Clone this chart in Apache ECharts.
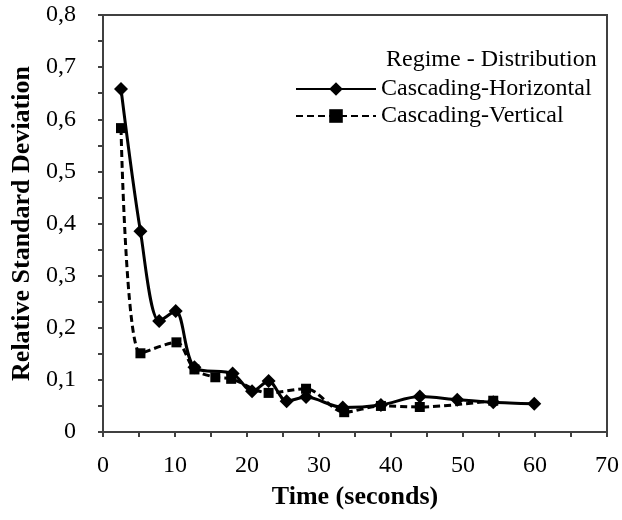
<!DOCTYPE html>
<html><head><meta charset="utf-8">
<script src="https://cdn.jsdelivr.net/npm/echarts@6/dist/echarts.min.js"></script>
<style>html,body{margin:0;padding:0;background:#fff}#c{width:622px;height:520px}</style>
</head><body><div id="c"></div>
<script>
var horizTime = [2.5, 5.2, 7.8, 10.1, 12.7, 18.0, 20.7, 23.0, 25.5, 28.2, 33.3, 38.6, 44.0, 49.2, 54.2, 59.9];
var horizRSD  = [0.658, 0.385, 0.213, 0.232, 0.124, 0.112, 0.078, 0.098, 0.059, 0.067, 0.047, 0.052, 0.068, 0.062, 0.057, 0.054];
var vertTime  = [2.5, 5.2, 10.2, 12.7, 15.6, 17.8, 23.0, 28.2, 33.5, 38.6, 44.0, 54.2];
var vertRSD   = [0.583, 0.151, 0.172, 0.120, 0.105, 0.102, 0.075, 0.083, 0.038, 0.050, 0.048, 0.060];
var seriesNames = ['Cascading-Horizontal', 'Cascading-Vertical'];
var legendTitle = 'Regime - Distribution';
var xTitle = 'Time (seconds)';
var yTitle = 'Relative Standard Deviation';

function pairs(xs, ys){ return xs.map(function(x,i){ return [x, ys[i]]; }); }
var font = 'Liberation Serif';
var axisCol = '#404040';
var chart = echarts.init(document.getElementById('c'));
chart.setOption({
  animation: false,
  backgroundColor: '#fff',
  textStyle: { fontFamily: font },
  grid: { left: 103, right: 15, top: 15, bottom: 88, show: true, borderColor: axisCol, borderWidth: 2, containLabel: false },
  title: { text: legendTitle, left: 381, top: 43, textStyle: { fontFamily: font, fontSize: 24, fontWeight: 'normal', color: '#000' } },
  legend: {
    orient: 'vertical', left: 290, top: 72, itemGap: 3, itemWidth: 80, itemHeight: 17,
    textStyle: { fontFamily: font, fontSize: 24, color: '#000' },
    data: seriesNames
  },
  xAxis: {
    type: 'value', min: 0, max: 70, interval: 10,
    name: xTitle, nameLocation: 'middle', nameGap: 52,
    nameTextStyle: { fontFamily: font, fontSize: 26, fontWeight: 'bold', color: '#000' },
    axisLine: { lineStyle: { color: axisCol, width: 2 } },
    axisTick: { inside: false, length: 5, lineStyle: { color: axisCol, width: 2 } },
    minorTick: { show: true, splitNumber: 2, length: 5, lineStyle: { color: axisCol, width: 2 } },
    splitLine: { show: false },
    axisLabel: { fontFamily: font, fontSize: 24, color: '#000', margin: 22 }
  },
  yAxis: {
    type: 'value', min: 0, max: 0.8, interval: 0.1,
    name: yTitle, nameLocation: 'middle', nameGap: 68,
    nameTextStyle: { fontFamily: font, fontSize: 26, fontWeight: 'bold', color: '#000' },
    axisLine: { show: true, lineStyle: { color: axisCol, width: 2 } },
    axisTick: { show: true, inside: false, length: 5, lineStyle: { color: axisCol, width: 2 } },
    minorTick: { show: true, splitNumber: 2, length: 5, lineStyle: { color: axisCol, width: 2 } },
    splitLine: { show: false },
    axisLabel: { fontFamily: font, fontSize: 24, color: '#000', margin: 27,
      formatter: function(v){ return v === 0 ? '0' : v.toFixed(1).replace('.', ','); } }
  },
  series: [
    { name: seriesNames[0], type: 'line', data: pairs(horizTime, horizRSD), smooth: 0.3,
      symbol: 'diamond', symbolSize: 14, lineStyle: { color: '#000', width: 3 }, itemStyle: { color: '#000' } },
    { name: seriesNames[1], type: 'line', data: pairs(vertTime, vertRSD), smooth: 0.3,
      symbol: 'rect', symbolSize: 10, lineStyle: { color: '#000', width: 3, type: [7, 4] }, itemStyle: { color: '#000' } }
  ]
});
</script></body></html>
